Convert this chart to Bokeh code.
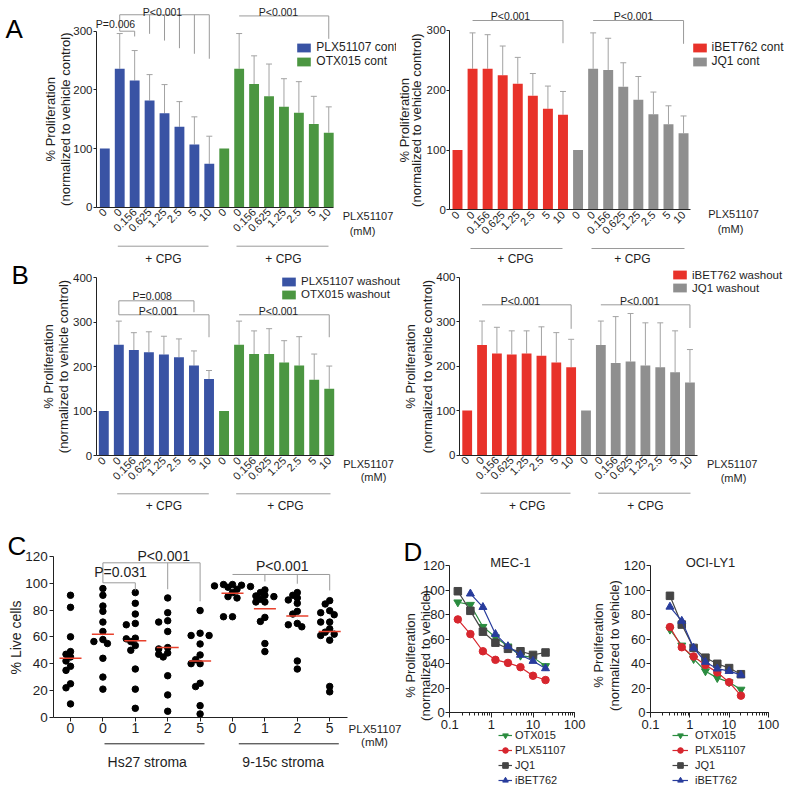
import math
from bokeh.plotting import figure
from bokeh.models import Range1d, FixedTicker, Whisker, TeeHead, ColumnDataSource, NumeralTickFormatter
from bokeh.layouts import row, column
from bokeh.embed import file_html
from bokeh.resources import INLINE
from bokeh.core.properties import value

# ---------------- data ----------------
doses = ["0", "0", "0.156", "0.625", "1.25", "2.5", "5", "10"]

a_plx_cont = [100, 236, 216, 182, 160, 137, 107, 74]
a_plx_cont_err = [0, 60, 51, 44, 49, 43, 47, 47]
a_otx_cont = [100, 236, 210, 189, 171, 161, 142, 127]
a_otx_cont_err = [0, 60, 48, 55, 48, 53, 47, 44]
a_ibet_cont = [100, 236, 236, 225, 211, 191, 169, 159]
a_ibet_cont_err = [0, 60, 57, 49, 44, 37, 38, 39]
a_jq1_cont = [100, 236, 234, 206, 184, 160, 143, 128]
a_jq1_cont_err = [0, 60, 53, 40, 39, 37, 31, 29]

b_plx_wash = [100, 249, 237, 232, 227, 221, 202, 172]
b_plx_wash_err = [0, 53, 39, 46, 41, 41, 33, 19]
b_otx_wash = [100, 249, 228, 228, 209, 202, 170, 150]
b_otx_wash_err = [0, 53, 52, 57, 49, 65, 58, 51]
b_ibet_wash = [100, 247, 228, 226, 228, 223, 208, 197]
b_ibet_wash_err = [0, 54, 59, 53, 51, 65, 67, 63]
b_jq1_wash = [100, 247, 207, 210, 201, 197, 186, 163]
b_jq1_wash_err = [0, 54, 104, 108, 96, 100, 93, 74]

c_groups = ["0", "0", "1", "2", "5", "0", "1", "2", "5"]
c_live = [
    [91, 82, 60, 49, 47, 45, 42, 38, 35, 25, 22, 10],
    [96, 91, 83, 79, 71, 64, 58, 56.5, 55, 44, 30, 21],
    [93, 85, 77, 70, 69, 59, 58.5, 56.5, 53.5, 50, 36, 21, 6.7],
    [89, 78, 72, 71, 64, 52, 51, 48, 47, 45, 31, 16.7, 4.5],
    [79.6, 62.7, 61, 61, 54.7, 46.5, 43, 40, 40, 25.4, 22.9, 8.7, 2.5],
    [99, 99, 98.5, 98, 97.5, 97, 95.5, 93, 90, 89, 75, 75],
    [95, 93, 91, 90.5, 90, 88, 86, 86, 74.5, 71.5, 55, 49],
    [93, 91, 89, 87.5, 85, 79, 77, 70, 69, 67.5, 42, 36],
    [87, 84.5, 79.5, 78, 76.5, 71, 71, 66, 63.5, 62, 61, 57.5, 23, 19],
]
c_median = [44, 62, 57, 52, 42, 92.5, 81, 75.5, 64]

d_conc = [0.156, 0.3125, 0.625, 1.25, 2.5, 5, 10, 20]
mec1_otx = [90, 88, 70, 61.5, 54, 46.5, 45, 38]
mec1_plx = [76, 64, 50, 43, 40.5, 37, 30, 26.5]
mec1_jq1 = [99, 83, 66, 57, 52, 50, 47, 49]
mec1_ibet = [97, 86, 64, 54, 47, 42, 36]          # from 0.3125
oci_otx = [68, 55, 44, 34, 28.5, 25, 19]           # from 0.3125
oci_plx = [70, 53.5, 46, 39, 33, 25, 14]
oci_jq1 = [95.5, 72, 53, 45, 40, 36.5, 31.5]
oci_ibet = [86.5, 75, 53, 41.5, 36, 34, 31]

# ---------------- styles ----------------
FONT = "Liberation Sans"
TXT = "#1e1e1e"
AX = "#222222"
BLUE = "#3953a4"
GREEN = "#4b9641"
RED = "#e8322a"
GRAY = "#8f8f8f"
ERR = "#a3a3a3"
BRK = "#9a9a9a"
MED = "#e8412c"
OTX_C = "#2a8c3f"
PLX_C = "#d7262e"
JQ1_C = "#454545"
IBET_C = "#283c9c"


def make_fig(w, h, xr, yr, log=False):
    kw = dict(width=w, height=h, x_range=xr, y_range=yr, output_backend="svg",
              toolbar_location=None, min_border=0, min_border_left=0, min_border_right=0,
              min_border_top=0, min_border_bottom=0, outline_line_color=None, title=None)
    if log:
        kw["x_axis_type"] = "log"
    p = figure(**kw)
    p.xgrid.visible = False
    p.ygrid.visible = False
    return p


def txt(p, xs, ys, labels, size, align="center", baseline="middle", angle=0.0, color=TXT):
    p.text(x=xs, y=ys, text=labels, text_font=value(FONT), text_font_size=value(size),
           text_align=align, text_baseline=baseline, angle=angle, text_color=color)


def style_axis(ax, size):
    ax.axis_line_color = AX
    ax.major_tick_line_color = AX
    ax.minor_tick_line_color = None
    ax.major_label_text_font = FONT
    ax.major_label_text_font_size = size
    ax.major_label_text_color = TXT


def style_legend(lg, loc, size, gw, gh, lh, spacing, standoff):
    lg.location = loc
    lg.border_line_color = None
    lg.background_fill_alpha = 0
    lg.padding = 0
    lg.margin = 0
    lg.spacing = spacing
    lg.glyph_width = gw
    lg.glyph_height = gh
    lg.label_height = lh
    lg.label_standoff = standoff
    lg.label_text_font = FONT
    lg.label_text_font_size = size
    lg.label_text_color = TXT


def bar_panel(sp):
    fl, ft, w, h = sp["box"]
    x0, dx, y0, ky = sp["map"]
    X = lambda px: (px - x0) / dx
    Y = lambda py: (y0 - py) / ky
    p = make_fig(w, h, Range1d(X(fl), X(fl + w)), Range1d(Y(ft + h), Y(ft)))
    n = len(doses)
    for g, (vals, errs, color, name) in enumerate(sp["series"]):
        idx = [g * n + i for i in range(n)]
        p.vbar(x=idx, top=vals, bottom=0, width=0.66, fill_color=color, line_color=None,
               legend_label=name)
        keep = [i for i in range(n) if errs[i] > 0]
        src = ColumnDataSource(dict(base=[idx[i] for i in keep],
                                    lower=[vals[i] for i in keep],
                                    upper=[vals[i] + errs[i] for i in keep]))
        p.add_layout(Whisker(source=src, base="base", lower="lower", upper="upper",
                             line_color=ERR, line_width=1,
                             upper_head=TeeHead(size=6, line_color=ERR, line_width=1),
                             lower_head=None))
    br = sp["brackets"]
    p.multi_line(xs=[[q[0] for q in b] for b in br], ys=[[q[1] for q in b] for b in br],
                 line_color=BRK, line_width=1)
    yc = Y(sp["cpg_y"])
    p.multi_line(xs=[[X(a), X(b)] for a, b in sp["cpg_x"]], ys=[[yc, yc] for _ in sp["cpg_x"]],
                 line_color=BRK, line_width=1)
    for t, px, py, size in sp["texts"]:
        txt(p, [X(px)], [Y(py)], [t], size)
    (l1x, l2x, lyc) = sp["ytitle"]
    txt(p, [X(l1x), X(l2x)], [Y(lyc), Y(lyc)], ["% Proliferation", sp["ytitle2"]], "13px",
        angle=math.pi / 2)

    xa = p.xaxis[0]
    ya = p.yaxis[0]
    style_axis(xa, "11px")
    style_axis(ya, "11.5px")
    xs = X(sp["axis_px"])
    xa.fixed_location = 0
    xa.bounds = (xs, X(sp["x_end_px"]))
    xa.ticker = FixedTicker(ticks=list(range(2 * n)))
    xa.major_label_overrides = {i: lab for i, lab in enumerate(doses * 2)}
    xa.major_label_orientation = math.pi / 4
    xa.major_tick_out = 0
    xa.major_tick_in = 0
    xa.major_label_standoff = 3
    ya.fixed_location = xs
    ya.bounds = (0, sp["ymax"])
    ya.ticker = FixedTicker(ticks=sp["yticks"])
    ya.major_tick_out = 3
    ya.major_tick_in = 0
    ya.major_label_standoff = 1

    lgl, lgb, lsize = sp["legend"]
    style_legend(p.legend[0], (lgl - fl, ft + h - lgb), lsize, 17, 11, 13, 0, 4)
    return p


AL = bar_panel(dict(
    box=(32, 0, 364, 267), map=(104.3, 14.93, 206.7, 0.5867), ymax=300, yticks=[0, 100, 200, 300],
    series=[(a_plx_cont, a_plx_cont_err, BLUE, "PLX51107 cont"),
            (a_otx_cont, a_otx_cont_err, GREEN, "OTX015 cont")],
    brackets=[[(1, 300), (2, 300), (2, 291)],
              [(1, 300), (1, 328), (7, 328)],
              [(3, 328), (3, 295.5)], [(4, 328), (4, 284)], [(5, 328), (5, 271)],
              [(6, 328), (6, 261.5)], [(7, 328), (7, 253)],
              [(9, 326), (15, 326), (15, 287)]],
    cpg_y=245.7, cpg_x=[(117.3, 208), (236, 328)],
    texts=[("P=0.006", 115, 23, "10.5px"), ("P<0.001", 162, 11, "10.5px"), ("P<0.001", 278, 11, "10.5px"),
           ("+ CPG", 163, 258, "12px"), ("+ CPG", 283, 258, "12px"),
           ("PLX51107", 367.5, 215, "11px"), ("(mM)", 362, 230, "11px")],
    ytitle=(50, 65, 118.7), ytitle2="(normalized to vehicle control)",
    axis_px=96, x_end_px=333, legend=(295.3, 68, "12px")))

AR = bar_panel(dict(
    box=(396, 0, 388, 267), map=(457, 15.07, 209.3, 0.5977), ymax=300, yticks=[0, 100, 200, 300],
    series=[(a_ibet_cont, a_ibet_cont_err, RED, "iBET762 cont"),
            (a_jq1_cont, a_jq1_cont_err, GRAY, "JQ1 cont")],
    brackets=[[(1, 316.7), (7, 316.7), (7, 278.7)],
              [(9, 316.7), (15, 316.7), (15, 277.7)]],
    cpg_y=248, cpg_x=[(470, 562), (591, 684)],
    texts=[("P<0.001", 510, 15, "10.5px"), ("P<0.001", 633, 15, "10.5px"),
           ("+ CPG", 515, 258, "12px"), ("+ CPG", 632, 258, "12px"),
           ("PLX51107", 733, 213, "11px"), ("(mM)", 730, 228, "11px")],
    ytitle=(404, 416, 119.7), ytitle2="(normalized to vehicle control)",
    axis_px=449.3, x_end_px=690, legend=(690.5, 68, "12px")))

BL = bar_panel(dict(
    box=(32, 267, 371, 253), map=(103.3, 15.03, 455, 0.445), ymax=400, yticks=[0, 100, 200, 300, 400],
    series=[(b_plx_wash, b_plx_wash_err, BLUE, "PLX51107 washout"),
            (b_otx_wash, b_otx_wash_err, GREEN, "OTX015 washout")],
    brackets=[[(1, 347.6), (6, 347.6), (6, 322)],
              [(1, 347.6), (1, 316.2), (7, 316.2), (7, 265.8)],
              [(9, 316.2), (15, 316.2), (15, 265.8)]],
    cpg_y=493.3, cpg_x=[(116.7, 208.3), (235.7, 330)],
    texts=[("P=0.008", 151.7, 295, "10.5px"), ("P<0.001", 158, 310, "10.5px"), ("P<0.001", 278, 310, "10.5px"),
           ("+ CPG", 163.3, 505, "12px"), ("+ CPG", 285, 505, "12px"),
           ("PLX51107", 368, 463.3, "11px"), ("(mM)", 373, 476.7, "11px")],
    ytitle=(47.7, 63.3, 366), ytitle2="(normalized to vehicle control)",
    axis_px=95.7, x_end_px=333, legend=(280, 300.5, "11.5px")))

BR = bar_panel(dict(
    box=(403, 267, 381, 253), map=(466.7, 14.85, 454.5, 0.445), ymax=400, yticks=[0, 100, 200, 300, 400],
    series=[(b_ibet_wash, b_ibet_wash_err, RED, "iBET762 washout"),
            (b_jq1_wash, b_jq1_wash_err, GRAY, "JQ1 washout")],
    brackets=[[(1, 337.5), (7, 337.5), (7, 283.6)],
              [(9, 337.5), (15, 337.5), (15, 285.4)]],
    cpg_y=492.7, cpg_x=[(480, 570), (597.7, 690)],
    texts=[("P<0.001", 520, 300, "10.5px"), ("P<0.001", 639.3, 300, "10.5px"),
           ("+ CPG", 526.7, 505, "12px"), ("+ CPG", 645, 505, "12px"),
           ("PLX51107", 731.7, 463, "11px"), ("(mM)", 733, 477, "11px")],
    ytitle=(410, 427, 366), ytitle2="(normalized to vehicle control)",
    axis_px=459, x_end_px=696.7, legend=(671, 294, "11.5px")))


# ---------------- panel letters strip ----------------
strip = make_fig(32, 520, Range1d(0, 32), Range1d(520, 0))
strip.axis.visible = False
txt(strip, [5, 11], [28, 274], ["A", "B"], "26px", align="left", baseline="alphabetic", color="#000000")


# ---------------- panel C ----------------
def swarm(vals, ky, dot=5.2, step=4.5):
    placed = []
    offs = [0.0] * len(vals)
    order = sorted(range(len(vals)), key=lambda i: -vals[i])
    cands = [0.0]
    for m in range(1, 12):
        cands += [-m * step, m * step]
    for i in order:
        yy = vals[i] * ky
        for c in cands:
            if all((c - a) ** 2 + (yy - b) ** 2 >= dot ** 2 for a, b in placed):
                offs[i] = c
                placed.append((c, yy))
                break
    return offs


def c_panel():
    fl, ft, w, h = 0, 520, 402, 268
    x0, dx, y0, ky = 70, 32.4, 716.8, 1.341
    X = lambda px: (px - x0) / dx
    Y = lambda py: (y0 - py) / ky
    p = make_fig(w, h, Range1d(X(fl), X(fl + w)), Range1d(Y(ft + h), Y(ft)))
    px_, py_ = [], []
    for k, vals in enumerate(c_live):
        offs = swarm(vals, ky)
        px_ += [k + o / dx for o in offs]
        py_ += vals
    p.scatter(px_, py_, size=6.5, fill_color="#000000", line_color="#000000")
    ks = list(range(len(c_median)))
    p.segment(x0=[k - 0.34 for k in ks], x1=[k + 0.34 for k in ks], y0=c_median, y1=c_median,
              line_color=MED, line_width=1.5)
    br = [[(1, 100.3), (2, 100.3), (2, 94.6)],
          [(1, 100.3), (1, 115.2), (4, 115.2), (4, 86.5)],
          [(3, 115.2), (3, 95.5)],
          [(5, 106.5), (8, 106.5), (8, 94.6)],
          [(6, 106.5), (6, 101.3)], [(7, 106.5), (7, 99.6)]]
    p.multi_line(xs=[[q[0] for q in b] for b in br], ys=[[q[1] for q in b] for b in br],
                 line_color=BRK, line_width=1)
    yg = Y(743.3)
    p.multi_line(xs=[[X(104), X(204)], [X(238.3), X(338.3)]], ys=[[yg, yg], [yg, yg]],
                 line_color="#222222", line_width=1)
    for t, qx, qy, size in [("P=0.031", 120, 571.7, "14px"), ("P<0.001", 163.3, 555, "14px"),
                            ("P<0.001", 281.7, 565, "14px"),
                            ("PLX51107", 374.5, 728.3, "11.5px"), ("(mM)", 374, 741.7, "11.5px"),
                            ("Hs27 stroma", 146.7, 761, "14px"), ("9-15c stroma", 282.7, 761, "14px")]:
        txt(p, [X(qx)], [Y(qy)], [t], size)
    txt(p, [X(15)], [Y(637)], ["% Live cells"], "14px", angle=math.pi / 2)
    txt(p, [X(7)], [Y(545)], ["C"], "26px", align="left", baseline="alphabetic", color="#000000")
    xa, ya = p.xaxis[0], p.yaxis[0]
    style_axis(xa, "14px")
    style_axis(ya, "13.5px")
    xs = X(53.3)
    xa.fixed_location = 0
    xa.bounds = (xs, X(346.7))
    xa.ticker = FixedTicker(ticks=list(range(len(c_groups))))
    xa.major_label_overrides = {i: lab for i, lab in enumerate(c_groups)}
    xa.major_tick_out = 4
    xa.major_tick_in = 0
    xa.major_label_standoff = 2
    ya.fixed_location = xs
    ya.bounds = (0, 120)
    ya.ticker = FixedTicker(ticks=[0, 20, 40, 60, 80, 100, 120])
    ya.major_tick_out = 4
    ya.major_tick_in = 0
    ya.major_label_standoff = 2
    return p


C = c_panel()


# ---------------- panel D ----------------
def d_panel(sp):
    fl, ft, w, h = sp["box"]
    x01, dec, y0, ky = sp["map"]
    X = lambda px: 10 ** (-1 + (px - x01) / dec)
    Y = lambda py: (y0 - py) / ky
    p = make_fig(w, h, Range1d(X(fl), X(fl + w)), Range1d(Y(ft + h), Y(ft)), log=True)
    for name, xs, ys, color, marker, ms in sp["series"]:
        p.line(xs, ys, line_color=color, line_width=1.2, legend_label=name)
        p.scatter(xs, ys, marker=marker, size=ms, fill_color=color, line_color=color, legend_label=name)
    txt(p, [X(sp["title_px"])], [Y(561.7)], [sp["title"]], "13px")
    l1, l2, lc = sp["ytitle"]
    txt(p, [X(l1), X(l2)], [Y(lc), Y(lc)], ["% Proliferation", "(normalized to vehicle)"], "13px",
        angle=math.pi / 2)
    if sp.get("letter"):
        txt(p, [X(403)], [Y(551)], ["D"], "26px", align="left", baseline="alphabetic", color="#000000")
    xa, ya = p.xaxis[0], p.yaxis[0]
    style_axis(xa, "13px")
    style_axis(ya, "13px")
    xa.minor_tick_line_color = AX
    xa.fixed_location = 0
    xa.bounds = (0.1, 100)
    xa.formatter = NumeralTickFormatter(format="0.[0]")
    xa.major_tick_out = 5
    xa.major_tick_in = 0
    xa.minor_tick_out = 3
    xa.minor_tick_in = 0
    xa.major_label_standoff = 2
    ya.fixed_location = 0.1
    ya.bounds = (0, 120)
    ya.ticker = FixedTicker(ticks=[0, 20, 40, 60, 80, 100, 120])
    ya.major_tick_out = 4
    ya.major_tick_in = 0
    ya.major_label_standoff = 1
    style_legend(p.legend[0], (sp["legend_left"] - fl, 1), "11px", sp["gw"], 14, 14, 1, sp["standoff"])
    return p


DL = d_panel(dict(
    box=(402, 520, 186, 268), map=(449.3, 41.6, 712, 1.225), title="MEC-1", title_px=510,
    series=[("OTX015", d_conc, mec1_otx, OTX_C, "inverted_triangle", 8),
            ("PLX51107", d_conc, mec1_plx, PLX_C, "circle", 7.5),
            ("JQ1", d_conc, mec1_jq1, JQ1_C, "square", 7.5),
            ("iBET762", d_conc[1:], mec1_ibet, IBET_C, "triangle", 8)],
    ytitle=(410, 425, 655), legend_left=498, gw=14, standoff=3, letter=True))

DR = d_panel(dict(
    box=(588, 520, 196, 268), map=(650, 39.3, 712.3, 1.225), title="OCI-LY1", title_px=710,
    series=[("OTX015", d_conc[1:], oci_otx, OTX_C, "inverted_triangle", 8),
            ("PLX51107", d_conc[1:], oci_plx, PLX_C, "circle", 7.5),
            ("JQ1", d_conc[1:], oci_jq1, JQ1_C, "square", 7.5),
            ("iBET762", d_conc[1:], oci_ibet, IBET_C, "triangle", 8)],
    ytitle=(598, 614, 645), legend_left=672, gw=16, standoff=7))

layout = column(row(strip, column(row(AL, AR), row(BL, BR))), row(C, DL, DR))
open("out.html", "w").write(file_html(layout, INLINE))
